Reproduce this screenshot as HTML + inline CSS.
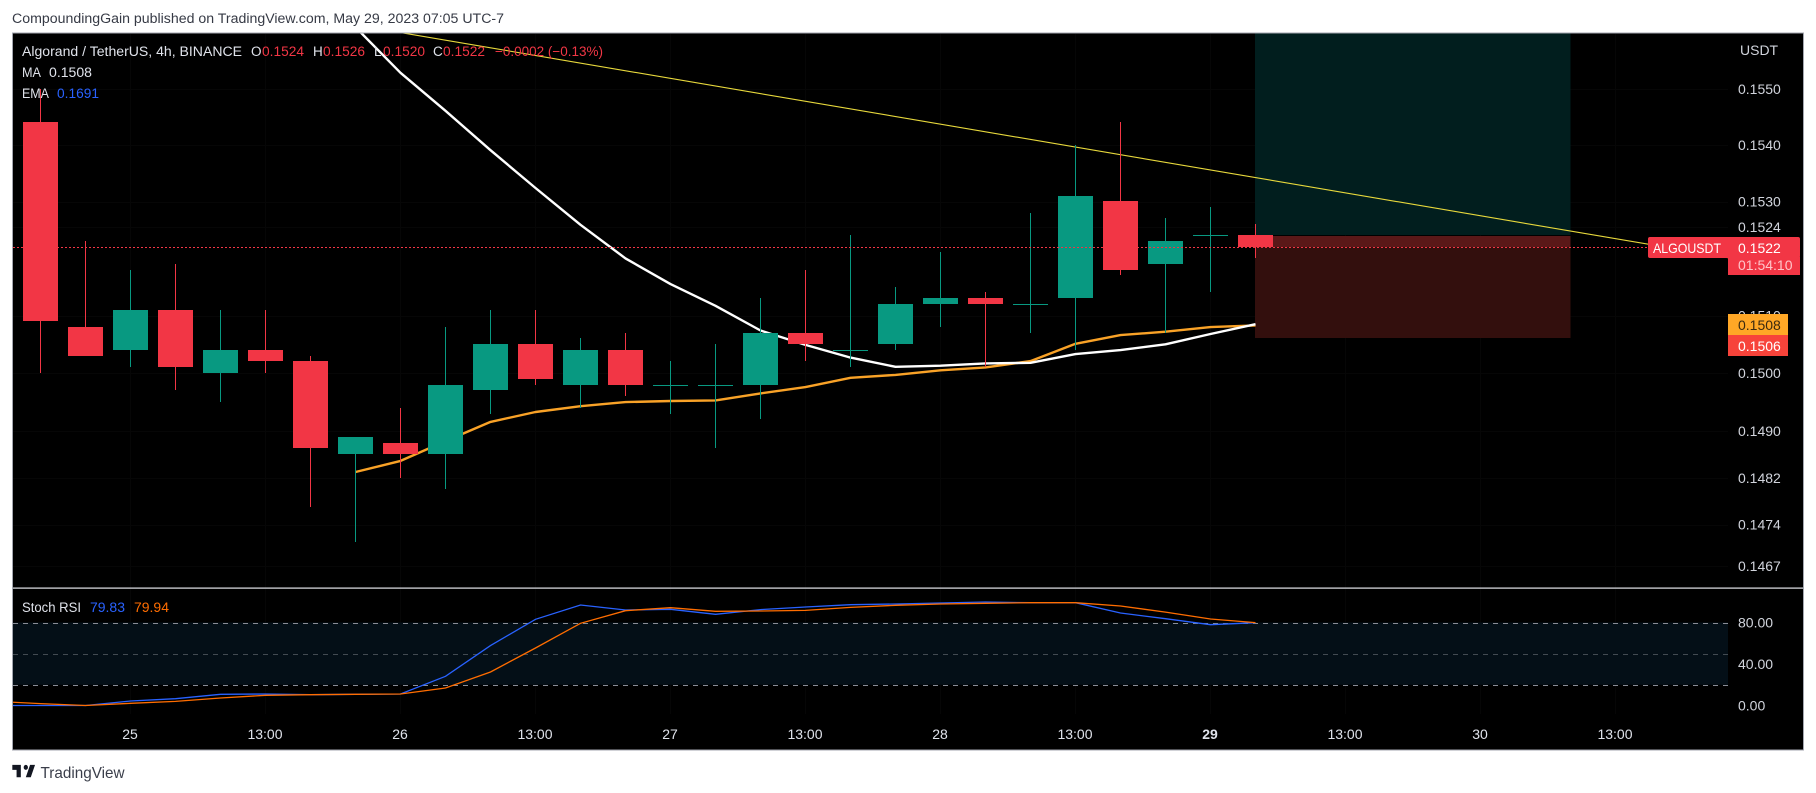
<!DOCTYPE html>
<html lang="en">
<head>
<meta charset="utf-8">
<title>ALGOUSDT chart</title>
<style>
  html, body { margin: 0; padding: 0; background: #fff; width: 1816px; height: 793px; overflow: hidden; }
  svg { display: block; font-family: "Liberation Sans", "DejaVu Sans", sans-serif; }
  text { white-space: pre; }
</style>
</head>
<body>
<svg id="chart" xmlns="http://www.w3.org/2000/svg" width="1816" height="793" viewBox="0 0 1816 793">
  <defs>
    <clipPath id="main-clip"><rect x="13" y="33.5" width="1715" height="554"/></clipPath>
    <clipPath id="stoch-clip"><rect x="13" y="589" width="1715" height="160"/></clipPath>
  </defs>
  <text x="12" y="23" font-size="13.5" fill="#363a45" textLength="492" lengthAdjust="spacingAndGlyphs">CompoundingGain published on TradingView.com, May 29, 2023 07:05 UTC-7</text>
  <rect x="12.5" y="33" width="1791" height="717" fill="#000" stroke="#a3a6af" stroke-width="1"/>
  <g id="main-layer" clip-path="url(#main-clip)"></g>
  <g id="stoch-layer" clip-path="url(#stoch-clip)"></g>
  <g id="axis-layer"></g>
  <rect x="13" y="587.5" width="1790" height="1.2" fill="#e4e6ec"/>

  <g font-size="13.5" fill="#e0e3eb">
    <text x="22" y="56" textLength="220" lengthAdjust="spacingAndGlyphs">Algorand / TetherUS, 4h, BINANCE</text>
    <text x="251" y="56">O</text>
    <text x="262" y="56" fill="#f23645" textLength="42" lengthAdjust="spacingAndGlyphs">0.1524</text>
    <text x="313" y="56">H</text>
    <text x="323" y="56" fill="#f23645" textLength="42" lengthAdjust="spacingAndGlyphs">0.1526</text>
    <text x="374" y="56">L</text>
    <text x="383" y="56" fill="#f23645" textLength="42" lengthAdjust="spacingAndGlyphs">0.1520</text>
    <text x="433" y="56">C</text>
    <text x="443" y="56" fill="#f23645" textLength="42" lengthAdjust="spacingAndGlyphs">0.1522</text>
    <text x="495" y="56" fill="#f23645" textLength="108" lengthAdjust="spacingAndGlyphs">−0.0002 (−0.13%)</text>
    <text x="22" y="77" textLength="19" lengthAdjust="spacingAndGlyphs">MA</text>
    <text x="49" y="77" textLength="43" lengthAdjust="spacingAndGlyphs">0.1508</text>
    <text x="22" y="98" textLength="27" lengthAdjust="spacingAndGlyphs">EMA</text>
    <text x="57" y="98" fill="#2962ff" textLength="42" lengthAdjust="spacingAndGlyphs">0.1691</text>
  </g>
  <g font-size="13.5" fill="#e0e3eb">
    <text x="22" y="612" textLength="59" lengthAdjust="spacingAndGlyphs">Stoch RSI</text>
    <text x="90" y="612" fill="#2962ff" textLength="35" lengthAdjust="spacingAndGlyphs">79.83</text>
    <text x="134" y="612" fill="#ff6d00" textLength="35" lengthAdjust="spacingAndGlyphs">79.94</text>
  </g>
  <g>
    <path transform="translate(10.9,760) scale(0.71,0.82)" fill="#131722" d="M14 6H2v6h6v9h6V6Zm14 15h-7l6-15h7l-6 15Zm-7-9a3 3 0 1 0 0-6 3 3 0 0 0 0 6Z"/>
    <text x="40.5" y="778" font-size="16" fill="#3a3e4a" textLength="84" lengthAdjust="spacingAndGlyphs">TradingView</text>
  </g>
</svg>
<script>
// ---- Candle data (4h bars) ----
const opens  = [0.1544,0.1508,0.1504,0.1511,0.1500,0.1504,0.1502,0.1486,0.1488,0.1486,0.1497,0.1505,0.1498,0.1504,0.1498,0.1498,0.1498,0.1507,0.1504,0.1505,0.1512,0.1513,0.1512,0.1513,0.1530,0.1519,0.1524,0.1524];
const highs  = [0.1550,0.1523,0.1518,0.1519,0.1511,0.1511,0.1503,0.1489,0.1494,0.1508,0.1511,0.1511,0.1506,0.1507,0.1502,0.1505,0.1513,0.1518,0.1524,0.1515,0.1521,0.1514,0.1528,0.1540,0.1544,0.1527,0.1529,0.1526];
const lows   = [0.1500,0.1503,0.1501,0.1497,0.1495,0.1500,0.1477,0.1471,0.1482,0.1480,0.1493,0.1498,0.1494,0.1496,0.1493,0.1487,0.1492,0.1502,0.1501,0.1504,0.1508,0.1501,0.1507,0.1504,0.1517,0.1507,0.1514,0.1520];
const closes = [0.1509,0.1503,0.1511,0.1501,0.1504,0.1502,0.1487,0.1489,0.1486,0.1498,0.1505,0.1499,0.1504,0.1498,0.1498,0.1498,0.1507,0.1505,0.1504,0.1512,0.1513,0.1512,0.1512,0.1531,0.1518,0.1523,0.1524,0.1522];

// ---- Overlay series; the first value belongs to bar 7 ----
const overlayStartBar = 7;
const maValues  = [0.14830,0.14849,0.14883,0.14916,0.14933,0.14943,0.14950,0.14952,0.14953,0.14965,0.14976,0.14992,0.14997,0.15005,0.15010,0.15021,0.15051,0.15066,0.15072,0.15080,0.15083];
const emaValues = [0.15611,0.15529,0.15461,0.15391,0.15324,0.15259,0.15200,0.15155,0.15117,0.15074,0.15049,0.15027,0.15011,0.15013,0.15017,0.15018,0.15033,0.15040,0.15050,0.15068,0.15085];

// ---- Stoch RSI; the first value belongs to bar -1 (off the left edge) ----
const stochStartBar = -1;
const stochK = [0,0,0,4.3,6.6,10.8,11.1,10.4,10.8,11.1,28.1,57.7,83.1,96.9,92.0,92.7,87.9,92.4,94.9,97.2,97.8,98.8,99.8,99.1,99.1,89.2,83.7,77.9,79.83];
const stochD = [4.0,1.8,0,2.1,4.0,7.2,9.8,10.4,10.8,11.1,16.9,32.3,55.4,79.2,91.4,94.3,90.8,91.1,91.7,94.6,96.6,97.8,98.5,99.1,99.1,95.9,90.0,83.4,79.94];
const stochLevels = [80,50,20];

// ---- Axis ticks ----
const priceTickValues = [0.1550,0.1540,0.1530,0.15255,0.1510,0.1500,0.1490,0.1482,0.1474,0.1467];
const priceTickLabels = ["0.1550","0.1540","0.1530","0.1524","0.1510","0.1500","0.1490","0.1482","0.1474","0.1467"];
const stochTickValues = [80,40,0];
const stochTickLabels = ["80.00","40.00","0.00"];
const timeTickBars = [2,5,8,11,14,17,20,23,26,29,32,35];
const timeTickLabels = ["25","13:00","26","13:00","27","13:00","28","13:00","29","13:00","30","13:00"];
const boldTimeTick = "29";

// ---- Drawing annotations, in bar / price units ----
const positionStartBar = 27;
const positionEndBar = 34;
const positionEntry = 0.1524;
const positionStop = 0.1506;
const positionTarget = 0.1580;
const trendBars = [7, 37.66];
const trendPrices = [0.15615, 0.15199];

// ---- Axis functions ----
function xOf(bar) { return 40.5 + 45 * bar; }
function yOf(price) { return 89 + 8667 * Math.log(0.155 / price); }
function yStoch(v) { return 705.5 - 1.0375 * v; }
function snap(y) { return Math.round(y - 0.2); }

const NS = "http://www.w3.org/2000/svg";
const mainLayer = document.getElementById("main-layer");
const stochLayer = document.getElementById("stoch-layer");
const axisLayer = document.getElementById("axis-layer");

function shape(parent, tag, props) {
  const el = document.createElementNS(NS, tag);
  for (const k in props) el.setAttribute(k, props[k]);
  parent.appendChild(el);
  return el;
}
function polyPoints(values, startBar, yFn) {
  return values.map(function (v, i) { return xOf(startBar + i) + "," + yFn(v).toFixed(1); }).join(" ");
}

// Grid
timeTickBars.forEach(function (bar) {
  const g = shape(axisLayer, "rect", { x: Math.floor(xOf(bar)), y: 34, width: 1, height: 680, fill: "#060606" });
  
  
});
axisLayer.parentNode.insertBefore(axisLayer, mainLayer);
priceTickValues.forEach(function (v) {
  const g = shape(mainLayer, "rect", { x: 13, y: Math.round(yOf(v)), width: 1715, height: 1, fill: "#060606" });
  
  
});

// Long position box
const boxX = xOf(positionStartBar) - 0.5;
const boxW = xOf(positionEndBar) - xOf(positionStartBar) + 0.5;
const entryY = yOf(positionEntry);
const lastY = yOf(closes[closes.length - 1]);
const profitBox = shape(mainLayer, "rect", { x: boxX, y: yOf(positionTarget), width: boxW, height: snap(entryY) - yOf(positionTarget), fill: "#011e1e" });


const lossBox = shape(mainLayer, "rect", { x: boxX, y: snap(entryY) + 1, width: boxW, height: snap(yOf(positionStop)) - snap(entryY) - 1, fill: "#330f0d" });


const openLoss = shape(mainLayer, "rect", { x: boxX, y: snap(entryY) + 1, width: boxW, height: snap(lastY) - snap(entryY) - 1, fill: "#5a1818" });



// Trend line
const trend = shape(mainLayer, "line", { x1: xOf(trendBars[0]), y1: yOf(trendPrices[0]), x2: xOf(trendBars[1]), y2: yOf(trendPrices[1]), stroke: "#e8d93c", "stroke-width": 1.1 });



// Moving averages
const maLine = shape(mainLayer, "polyline", { points: polyPoints(maValues, overlayStartBar, yOf), fill: "none", stroke: "#f9a227", "stroke-width": 2.4, "stroke-linejoin": "round" });


const emaLine = shape(mainLayer, "polyline", { points: polyPoints(emaValues, overlayStartBar, yOf), fill: "none", stroke: "#ffffff", "stroke-width": 2.4, "stroke-linejoin": "round" });



// Candles
opens.forEach(function (o, i) {
  const c = closes[i];
  const up = c >= o;
  const color = up ? "#089981" : "#f23645";
  const cx = xOf(i);
  const wick = shape(mainLayer, "rect", { x: cx - 0.5, y: snap(yOf(highs[i])), width: 1, height: Math.max(1, snap(yOf(lows[i])) - snap(yOf(highs[i]))), fill: color });
  
  
  const top = snap(yOf(Math.max(o, c)));
  const bottom = snap(yOf(Math.min(o, c)));
  const body = shape(mainLayer, "rect", { x: cx - 17.5, y: top, width: 35, height: Math.max(1, bottom - top), fill: color });
  
  
});

// Last price line
const priceLine = shape(mainLayer, "line", { x1: 13, y1: Math.round(lastY) + 0.5, x2: 1728, y2: Math.round(lastY) + 0.5, stroke: "#f23645", "stroke-width": 1, "stroke-dasharray": "2 2" });



// Stoch RSI pane
const band = shape(stochLayer, "rect", { x: 13, y: yStoch(stochLevels[0]), width: 1715, height: yStoch(stochLevels[2]) - yStoch(stochLevels[0]), fill: "#040f17" });


stochLevels.forEach(function (lvl, i) {
  const l = shape(stochLayer, "line", { x1: 13, y1: Math.round(yStoch(lvl)) + 0.5, x2: 1728, y2: Math.round(yStoch(lvl)) + 0.5, stroke: i === 1 ? "#434b52" : "#8a8d96", "stroke-width": 1, "stroke-dasharray": "5 5" });
  
  
});
const kLine = shape(stochLayer, "polyline", { points: polyPoints(stochK, stochStartBar, yStoch), fill: "none", stroke: "#2962ff", "stroke-width": 1.3 });


const dLine = shape(stochLayer, "polyline", { points: polyPoints(stochD, stochStartBar, yStoch), fill: "none", stroke: "#ff6d00", "stroke-width": 1.3 });



// Tick labels are added to an overlay group that sits above the panes
const overlay = shape(document.getElementById("chart"), "g", {});



function label(parent, str, x, y, color, anchor, weight) {
  const t = shape(parent, "text", { x: x, y: y, fill: color, "font-size": 14, "text-anchor": anchor || "start", "font-weight": weight || "normal" });
  t.textContent = str;
  return t;
}

const usdt = label(overlay, "USDT", 1740, 55, "#d1d4dc");



priceTickValues.forEach(function (v, i) {
  const t = label(overlay, priceTickLabels[i], 1738, yOf(v) + 5, "#d1d4dc");
  
  
});
stochTickValues.forEach(function (v, i) {
  const t = label(overlay, stochTickLabels[i], 1738, yStoch(v) + 5, "#d1d4dc");
  
  
});
timeTickBars.forEach(function (bar, i) {
  const isBold = timeTickLabels[i] === boldTimeTick;
  const t = label(overlay, timeTickLabels[i], xOf(bar) - 0.5, 739, "#e0e3eb", "middle", isBold ? "bold" : "normal");
  
  
});

// Price axis badges
const lastClose = closes[closes.length - 1];
const lastMa = maValues[maValues.length - 1];
const badgeY = Math.round(lastY) - 10;
const symbolBadge = shape(overlay, "rect", { x: 1648, y: badgeY, width: 152, height: 21, rx: 2, fill: "#f23645" });


const timerBadge = shape(overlay, "rect", { x: 1728, y: badgeY + 20, width: 72, height: 18, fill: "#f23645" });


const symbolText = label(overlay, "ALGOUSDT", 1653, badgeY + 16, "#ffffff");


symbolText.setAttribute('textLength', '68');
symbolText.setAttribute('lengthAdjust', 'spacingAndGlyphs');
const priceText = label(overlay, lastClose.toFixed(4), 1738, badgeY + 16, "#ffffff");


const timerText = label(overlay, "01:54:10", 1738, badgeY + 33, "#ffc4c9");



const maTop = Math.round(yOf(lastMa)) - 11;
const maBadge = shape(overlay, "rect", { x: 1728, y: maTop, width: 60, height: 21, fill: "#ffa726" });


const maText = label(overlay, lastMa.toFixed(4), 1738, maTop + 16, "#3a2a10");


const stopBadge = shape(overlay, "rect", { x: 1728, y: maTop + 21, width: 60, height: 21, fill: "#f7433a" });


const stopText = label(overlay, positionStop.toFixed(4), 1738, maTop + 37, "#ffffff");


</script>
</body>
</html>
